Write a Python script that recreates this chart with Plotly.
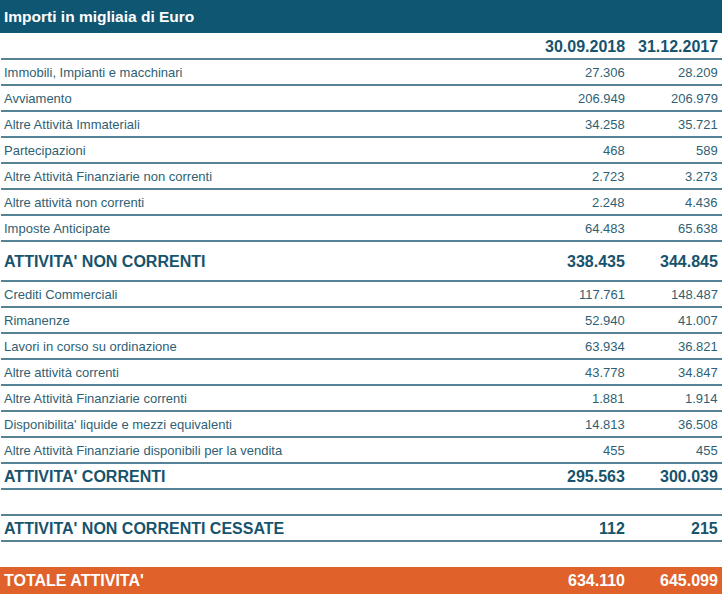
import plotly.graph_objects as go

# ---------------- data ----------------
title = "Importi in migliaia di Euro"
col_headers = ["30.09.2018", "31.12.2017"]
labels = [
    "Immobili, Impianti e macchinari",
    "Avviamento",
    "Altre Attività Immateriali",
    "Partecipazioni",
    "Altre Attività Finanziarie non correnti",
    "Altre attività non correnti",
    "Imposte Anticipate",
    "ATTIVITA' NON CORRENTI",
    "Crediti Commerciali",
    "Rimanenze",
    "Lavori in corso su ordinazione",
    "Altre attività correnti",
    "Altre Attività Finanziarie correnti",
    "Disponibilita' liquide e mezzi equivalenti",
    "Altre Attività Finanziarie disponibili per la vendita",
    "ATTIVITA' CORRENTI",
    "",
    "ATTIVITA' NON CORRENTI CESSATE",
    "",
    "TOTALE ATTIVITA'",
]
values_2018 = ["27.306", "206.949", "34.258", "468", "2.723", "2.248", "64.483",
               "338.435",
               "117.761", "52.940", "63.934", "43.778", "1.881", "14.813", "455",
               "295.563", "", "112", "", "634.110"]
values_2017 = ["28.209", "206.979", "35.721", "589", "3.273", "4.436", "65.638",
               "344.845",
               "148.487", "41.007", "36.821", "34.847", "1.914", "36.508", "455",
               "300.039", "", "215", "", "645.099"]
row_kinds = ["item"] * 7 + ["subtotal_tall"] + ["item"] * 7 + \
            ["subtotal", "blank", "subtotal", "blank", "total"]

# ---------------- style ----------------
W, H = 722, 594
FONT = "Arial, 'Liberation Sans', sans-serif"
TEAL_BAR = "#0f5672"
LINE_COL = "#1d5a72"
ITEM_COL = "#2f5f74"
BOLD_COL = "#17536c"
ORANGE = "#e0622a"
row_height = {"item": 26, "subtotal": 26, "subtotal_tall": 40, "blank": 26, "total": 27}
title_h = 33
colhead_h = 26
label_x = 2
col_right = [627, 720]

fig = go.Figure()
shapes = []
ann = []

# title bar
shapes.append(dict(type="rect", xref="x", yref="y", x0=0, x1=W, y0=0, y1=title_h,
                   fillcolor=TEAL_BAR, line_width=0, layer="below"))
ann.append(dict(x=label_x, y=title_h / 2, text=title, xanchor="left", yanchor="middle",
                showarrow=False, font=dict(family=FONT, size=15.5, color="white", weight="bold")))

# column headers
y = title_h
for cx, txt in zip(col_right, col_headers):
    ann.append(dict(x=cx, y=y + colhead_h / 2, text=txt, xanchor="right", yanchor="middle",
                    showarrow=False, font=dict(family=FONT, size=16, color=BOLD_COL, weight="bold")))
y += colhead_h
shapes.append(dict(type="line", xref="x", yref="y", x0=1, x1=W, y0=y, y1=y,
                   line=dict(color=LINE_COL, width=1.6)))

for i, (lab, v1, v2, kind) in enumerate(zip(labels, values_2018, values_2017, row_kinds)):
    h = row_height[kind]
    yc = y + h / 2
    if kind == "total":
        shapes.append(dict(type="rect", xref="x", yref="y", x0=0, x1=W, y0=y, y1=y + h,
                           fillcolor=ORANGE, line_width=0, layer="below"))
        f = dict(family=FONT, size=16, color="white", weight="bold")
    elif kind in ("subtotal", "subtotal_tall"):
        f = dict(family=FONT, size=16, color=BOLD_COL, weight="bold")
    else:
        f = dict(family=FONT, size=13, color=ITEM_COL)
    if lab:
        ann.append(dict(x=label_x, y=yc, text=lab, xanchor="left", yanchor="middle",
                        showarrow=False, font=f))
    for cx, v in zip(col_right, (v1, v2)):
        if v:
            ann.append(dict(x=cx, y=yc, text=v, xanchor="right", yanchor="middle",
                            showarrow=False, font=f))
    y += h
    nxt = row_kinds[i + 1] if i + 1 < len(row_kinds) else None
    if kind != "total" and nxt != "total":
        shapes.append(dict(type="line", xref="x", yref="y", x0=1, x1=W, y0=y, y1=y,
                           line=dict(color=LINE_COL, width=1.6)))

fig.update_layout(
    width=W, height=H,
    margin=dict(l=0, r=0, t=0, b=0),
    paper_bgcolor="white", plot_bgcolor="white",
    xaxis=dict(range=[0, W], visible=False, fixedrange=True),
    yaxis=dict(range=[H, 0], visible=False, fixedrange=True),
    shapes=shapes, annotations=ann, showlegend=False,
)
fig.write_html("out.html", config={"displayModeBar": False},
               post_script="document.body.style.margin='0';")
